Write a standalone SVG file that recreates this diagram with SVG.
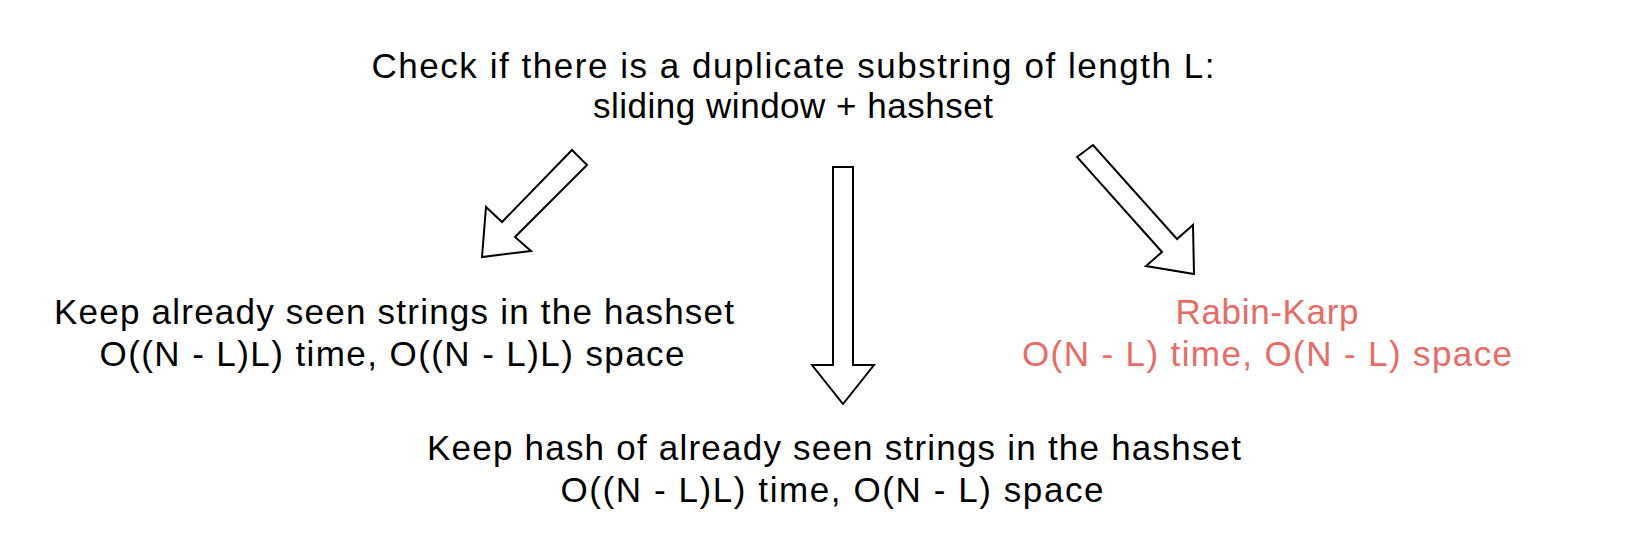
<svg xmlns="http://www.w3.org/2000/svg" width="1630" height="556" viewBox="0 0 1630 556">
<style>
.t{font-family:"Liberation Sans","DejaVu Sans",sans-serif;font-size:35px;fill:#000;text-anchor:middle}
.r{fill:#EA6B66}
.a{fill:#fff;stroke:#000;stroke-width:2;stroke-linejoin:miter}
</style>
<rect width="1630" height="556" fill="#fff"/>
<g id="connectors">
<polygon class="a" points="482,257 486,207 502,222 572,150 587,165 515,237 531,251"/>
<polygon class="a" points="833,167 853,167 853,365 874,365 843,404 812,365 833,365"/>
<polygon class="a" points="1077,157 1093,145 1177,239 1193,225 1194,274 1146,266 1162,252"/>
</g>
<g id="node-top">
<text class="t" x="793" y="78" textLength="843">Check if there is a duplicate substring of length L:</text>
<text class="t" x="793" y="118" textLength="400">sliding window + hashset</text>
</g>
<g id="node-left">
<text class="t" x="394" y="324" textLength="680">Keep already seen strings in the hashset</text>
<text class="t" x="392" y="366" textLength="585">O((N - L)L) time, O((N - L)L) space</text>
</g>
<g id="node-right">
<text class="t r" x="1267" y="324" textLength="183">Rabin-Karp</text>
<text class="t r" x="1267" y="366" textLength="490">O(N - L) time, O(N - L) space</text>
</g>
<g id="node-bottom">
<text class="t" x="834" y="460" textLength="814">Keep hash of already seen strings in the hashset</text>
<text class="t" x="832" y="502" textLength="543">O((N - L)L) time, O(N - L) space</text>
</g>
</svg>
